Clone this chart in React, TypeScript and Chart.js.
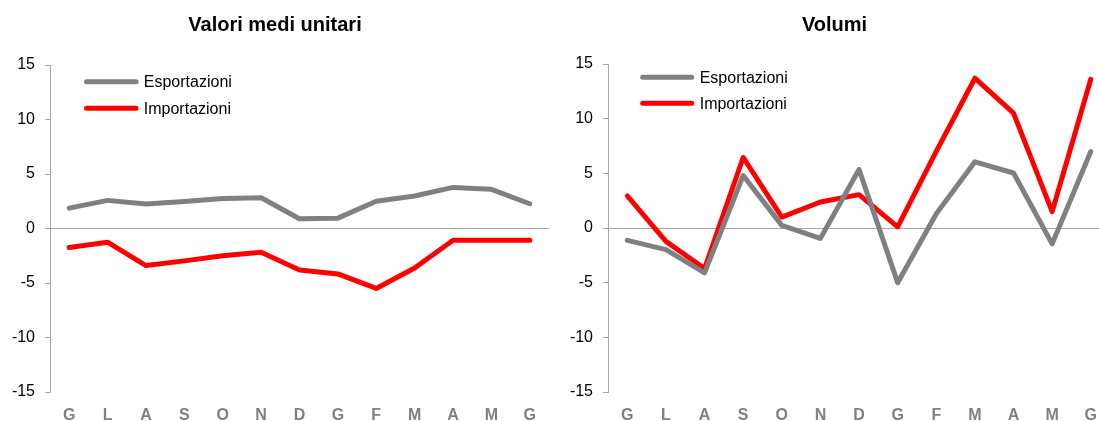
import React, { useEffect, useRef } from "react";
import { Chart, registerables } from "chart.js";

Chart.register(...registerables);

const months = ["G", "L", "A", "S", "O", "N", "D", "G", "F", "M", "A", "M", "G"];
const yTicks = [-15, -10, -5, 0, 5, 10, 15];

const valoriExport = [1.87, 2.58, 2.24, 2.48, 2.76, 2.82, 0.89, 0.95, 2.5, 2.98, 3.77, 3.59, 2.27];
const valoriImport = [-1.75, -1.26, -3.4, -2.97, -2.5, -2.18, -3.8, -4.17, -5.5, -3.62, -1.07, -1.07, -1.07];
const volumiExport = [-1.13, -1.98, -4.1, 4.8, 0.24, -0.95, 5.35, -5.0, 1.31, 6.05, 5.03, -1.45, 7.0];
const volumiImport = [2.93, -1.22, -3.7, 6.45, 1.0, 2.38, 3.05, 0.1, 7.0, 13.7, 10.5, 1.5, 13.6];

const seriesNames = ["Esportazioni", "Importazioni"];
const GRAY = "#808080";
const RED = "#ff0000";
const FONT = '"Liberation Sans", Arial, sans-serif';
const NARROW = '"Liberation Sans Narrow", "Liberation Sans", Arial, sans-serif';

const insideLegend = {
  id: "insideLegend",
  afterDatasetsDraw(chart: any, _args: any, opts: any) {
    const { ctx, chartArea } = chart;
    ctx.save();
    chart.data.datasets.forEach((ds: any, i: number) => {
      const y = chartArea.top + opts.top + i * opts.rowGap;
      const x0 = chartArea.left + opts.left;
      ctx.strokeStyle = ds.borderColor;
      ctx.lineWidth = 5;
      ctx.lineCap = "round";
      ctx.beginPath();
      ctx.moveTo(x0, y);
      ctx.lineTo(x0 + opts.lineLen, y);
      ctx.stroke();
      ctx.fillStyle = "#000";
      ctx.font = "16px " + FONT;
      ctx.textBaseline = "middle";
      ctx.textAlign = "left";
      ctx.fillText(ds.label, x0 + opts.lineLen + opts.textGap, y + 1);
    });
    ctx.restore();
  },
};

function makeConfig(title: string, exp: number[], imp: number[], legend: any, titlePadBottom: number): any {
  return {
    type: "line",
    data: {
      labels: months,
      datasets: [
        {
          label: seriesNames[0],
          data: exp,
          borderColor: GRAY,
          backgroundColor: GRAY,
          borderWidth: 5,
          pointRadius: 0,
          borderCapStyle: "round",
          borderJoinStyle: "round",
          tension: 0,
        },
        {
          label: seriesNames[1],
          data: imp,
          borderColor: RED,
          backgroundColor: RED,
          borderWidth: 5,
          pointRadius: 0,
          borderCapStyle: "round",
          borderJoinStyle: "round",
          tension: 0,
        },
      ],
    },
    options: {
      animation: false,
      responsive: false,
      layout: { padding: 0 },
      plugins: {
        legend: { display: false },
        tooltip: { enabled: false },
        title: {
          display: true,
          text: title,
          color: "#000",
          font: { family: FONT, size: 20, weight: "bold" },
          padding: { top: 13, bottom: titlePadBottom },
        },
        insideLegend: legend,
      },
      scales: {
        x: {
          type: "category",
          offset: true,
          grid: { display: false, drawTicks: false },
          border: { display: false },
          ticks: {
            color: GRAY,
            font: { family: NARROW, size: 16, weight: "bold" },
            padding: 14,
            maxRotation: 0,
            autoSkip: false,
          },
          afterFit: (s: any) => {
            s.height = 29;
          },
        },
        y: {
          min: -15,
          max: 15,
          afterBuildTicks: (s: any) => {
            s.ticks = yTicks.map((v) => ({ value: v }));
          },
          grid: {
            color: (c: any) => (c.tick && c.tick.value === 0 ? "#a6a6a6" : "rgba(0,0,0,0)"),
            lineWidth: 1,
            drawTicks: true,
            tickLength: 5,
            tickColor: "#a6a6a6",
          },
          border: { display: true, color: "#a6a6a6", width: 1 },
          ticks: {
            color: "#000",
            font: { family: FONT, size: 16 },
            padding: 10,
          },
          afterFit: (s: any) => {
            s.width = 50;
          },
        },
      },
    },
    plugins: [insideLegend],
  };
}

function ChartCanvas({ config, width, height }: { config: any; width: number; height: number }) {
  const ref = useRef<HTMLCanvasElement | null>(null);
  useEffect(() => {
    if (!ref.current) return;
    const chart = new Chart(ref.current, config);
    return () => chart.destroy();
  }, [config]);
  return <canvas ref={ref} width={width} height={height} style={{ width, height, display: "block" }} />;
}

const leftConfig = makeConfig(
  "Valori medi unitari",
  valoriExport,
  valoriImport,
  { left: 36.5, top: 16.7, rowGap: 26.6, lineLen: 49.5, textGap: 7.8 },
  28
);
const rightConfig = makeConfig(
  "Volumi",
  volumiExport,
  volumiImport,
  { left: 34.7, top: 13.3, rowGap: 26, lineLen: 49, textGap: 8 },
  27
);

export default function App() {
  return (
    <div
      style={{
        position: "absolute",
        left: 0,
        top: 0,
        width: 1099,
        height: 421,
        overflow: "hidden",
        background: "#fff",
      }}
    >
      <div style={{ position: "absolute", left: 0, top: 0 }}>
        <ChartCanvas config={leftConfig} width={550} height={421} />
      </div>
      <div style={{ position: "absolute", left: 558, top: 0 }}>
        <ChartCanvas config={rightConfig} width={553} height={421} />
      </div>
    </div>
  );
}
